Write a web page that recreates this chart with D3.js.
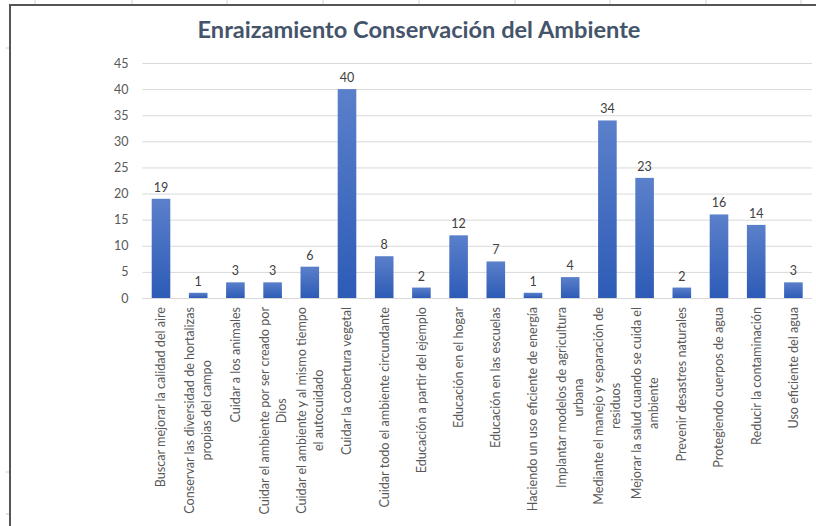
<!DOCTYPE html>
<html>
<head>
<meta charset="utf-8">
<script src="https://cdn.jsdelivr.net/npm/d3@7"></script>
<style>
  body { margin: 0; background: #ffffff; }
  svg { display: block; }
</style>
</head>
<body>
<svg id="chart" width="816" height="526"></svg>
<script>
// Chart title
const chartTitle = "Enraizamiento Conservación del Ambiente";

// Category labels, already split into the lines they wrap onto
const categoryLines = [
  ["Buscar mejorar la calidad del aire"],
  ["Conservar las diversidad de hortalizas", "propias del campo"],
  ["Cuidar a los animales"],
  ["Cuidar el ambiente por ser creado por", "Dios"],
  ["Cuidar el ambiente y al mismo tiempo", "el autocuidado"],
  ["Cuidar la cobertura vegetal"],
  ["Cuidar todo el ambiente circundante"],
  ["Educación a partir del ejemplo"],
  ["Educación en el hogar"],
  ["Educación en las escuelas"],
  ["Haciendo un uso eficiente de energía"],
  ["Implantar modelos de agricultura", "urbana"],
  ["Mediante el manejo y separación de", "residuos"],
  ["Mejorar la salud cuando se cuida el", "ambiente"],
  ["Prevenir desastres naturales"],
  ["Protegiendo cuerpos de agua"],
  ["Reducir la contaminación"],
  ["Uso eficiente del agua"]
];

// Number of mentions per category
const counts = [19, 1, 3, 3, 6, 40, 8, 2, 12, 7, 1, 4, 34, 23, 2, 16, 14, 3];

// Value axis ticks
const yTickValues = [0, 5, 10, 15, 20, 25, 30, 35, 40, 45];

const FONT = "Lato, 'Open Sans', sans-serif";
const svg = d3.select("#chart");

// Sheet frame: dark border on the top and left edges with faint cell stubs
const frame = svg.append("g");
[35, 132, 227, 323, 419, 515, 610, 706, 801].forEach(xp => {
  frame.append("line").attr("x1", xp).attr("x2", xp).attr("y1", 0).attr("y2", 4)
    .attr("stroke", "#d0d0d0").attr("stroke-width", 1);
});
[48, 472, 514].forEach(yp => {
  frame.append("line").attr("x1", 6).attr("x2", 9).attr("y1", yp).attr("y2", yp)
    .attr("stroke", "#c8c8c8").attr("stroke-width", 1);
});
frame.append("line").attr("x1", 9).attr("x2", 816).attr("y1", 5).attr("y2", 5)
  .attr("stroke", "#555555").attr("stroke-width", 2);
frame.append("line").attr("x1", 10).attr("x2", 10).attr("y1", 4).attr("y2", 526)
  .attr("stroke", "#555555").attr("stroke-width", 2);

// Scales
const plotLeft = 142.4, plotRight = 812;
const x = d3.scaleBand()
  .domain(d3.range(counts.length))
  .range([plotLeft, plotRight])
  .paddingInner(0.5)
  .paddingOuter(0.25);
const y = d3.scaleLinear().domain([0, 45]).range([298, 63]);

// Bar gradient
const defs = svg.append("defs");
const grad = defs.append("linearGradient")
  .attr("id", "barFill").attr("x1", 0).attr("y1", 0).attr("x2", 0).attr("y2", 1);
grad.append("stop").attr("offset", "0%").attr("stop-color", "#5b80cb");
grad.append("stop").attr("offset", "100%").attr("stop-color", "#2d5bb6");

// Title
svg.append("text")
  .attr("x", 419).attr("y", 38)
  .attr("text-anchor", "middle")
  .attr("font-family", FONT)
  .attr("font-weight", "bold")
  .attr("font-size", 23.6)
  .attr("fill", "#44546a")
  .text(chartTitle);

// Gridlines and value axis labels
const yAxis = d3.axisLeft(y)
  .tickValues(yTickValues)
  .tickSize(-(plotRight - plotLeft))
  .tickPadding(14);
const yG = svg.append("g")
  .attr("transform", `translate(${plotLeft},0)`)
  .call(yAxis);
yG.select(".domain").remove();
yG.selectAll(".tick line").attr("stroke", "#d9d9d9").attr("stroke-width", 1);
yG.selectAll(".tick text")
  .attr("fill", "#595959")
  .attr("font-family", FONT)
  .attr("font-size", 12.5);

// Bars
svg.append("g").selectAll("rect")
  .data(counts)
  .join("rect")
  .attr("x", (d, i) => x(i))
  .attr("y", d => y(d))
  .attr("width", x.bandwidth())
  .attr("height", d => y(0) - y(d))
  .attr("fill", "url(#barFill)");

// Value labels above bars
svg.append("g").selectAll("text")
  .data(counts)
  .join("text")
  .attr("x", (d, i) => x(i) + x.bandwidth() / 2)
  .attr("y", d => y(d) - 7)
  .attr("text-anchor", "middle")
  .attr("font-family", FONT)
  .attr("font-size", 12.5)
  .attr("fill", "#404040")
  .text(d => d);

// Rotated category labels, lines centred on each other, block hanging from the axis
const labelTop = 307;
const lineGap = 17;
const catG = svg.append("g")
  .attr("font-family", FONT)
  .attr("font-size", 12.6)
  .attr("fill", "#595959");

categoryLines.forEach((lines, i) => {
  const cx = x(i) + x.bandwidth() / 2;
  const g = catG.append("g")
    .attr("transform", `translate(${cx},${labelTop}) rotate(-90)`);
  const texts = lines.map((ln, j) =>
    g.append("text")
      .attr("y", (j - (lines.length - 1) / 2) * lineGap)
      .attr("dy", "0.35em")
      .attr("text-anchor", "middle")
      .text(ln)
  );
  const blockLen = d3.max(texts, t => t.node().getComputedTextLength());
  texts.forEach(t => t.attr("x", -blockLen / 2));
});
</script>
</body>
</html>
